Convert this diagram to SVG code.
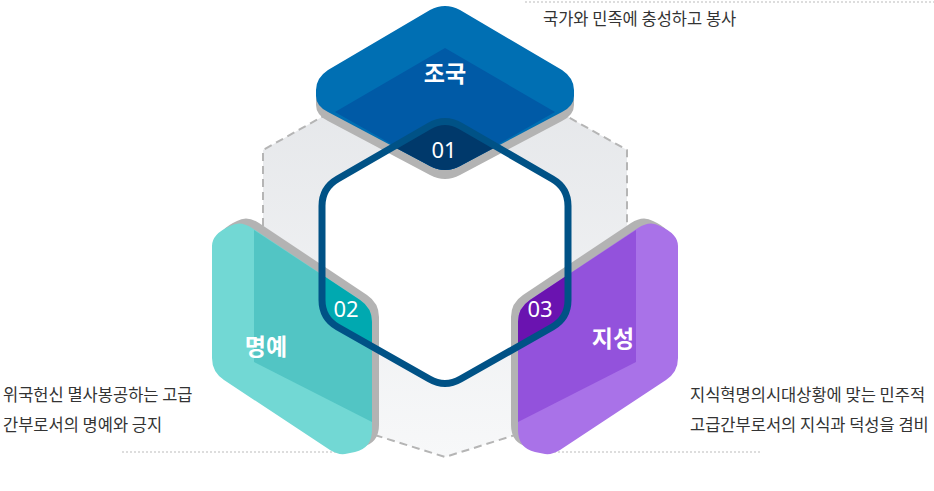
<svg xmlns="http://www.w3.org/2000/svg" width="934" height="491" viewBox="0 0 934 491">
<style>
.desc{font-family:"Noto Sans CJK KR","Noto Sans",sans-serif;font-size:16.5px;fill:#333}
.lbl{font-family:"Noto Sans CJK KR","Noto Sans",sans-serif;font-size:23px;font-weight:bold;fill:#fff;text-anchor:middle}
.num{font-family:"Noto Sans","Noto Sans CJK KR",sans-serif;font-size:22px;fill:#fff;text-anchor:middle}
.dot{stroke:#bbb;stroke-width:1;stroke-dasharray:2 2;fill:none}
</style>
<defs>
<linearGradient id="bg" x1="0" y1="0" x2="0" y2="1"><stop offset="0" stop-color="#e3e5e8"/><stop offset="1" stop-color="#f7f8f9"/></linearGradient>
<path id="hexPath" d="M429.4,126 Q445,117 460.6,126 L552.4,179 Q568,188 568,206 L568,300 Q568,318 552.4,327 L460.6,379 Q445,388 429.4,379 L337.6,327 Q322,318 322,300 L322,206 Q322,188 337.6,179 Z"/>
<clipPath id="hex"><use href="#hexPath"/></clipPath>
<path id="topShape" d="M430,10 Q445,2 460,10 L562,70 Q574,78 574,90 L574,96 Q574,106 562,112 L460,166 Q445,174 430,166 L328,112 Q316,106 316,96 L316,90 Q316,78 328,70 Z"/>
<path id="leftShape" d="M230,226 Q240,220 252,228 L360,300 Q372,308 372,322 L372,430 Q372,448 355,452 L345,454 Q338,455 330,450 L224,380 Q212,372 212,358 L212,246 Q212,234 230,226 Z"/>
<path id="rightShape" d="M660,226 Q650,220 638,228 L530,300 Q518,308 518,322 L518,430 Q518,448 535,452 L545,454 Q552,455 560,450 L666,380 Q678,372 678,358 L678,246 Q678,234 660,226 Z"/>
</defs>
<g id="background">
<polygon points="445,48 627,150 627,400 445,457 263,400 263,150" fill="url(#bg)" stroke="#b5b5b5" stroke-width="2" stroke-dasharray="8 5" stroke-linejoin="round"/>
<use href="#hexPath" fill="#fff"/>
<line class="dot" x1="525" y1="2" x2="934" y2="2"/>
<line class="dot" x1="122" y1="452" x2="340" y2="452"/>
<line class="dot" x1="542" y1="452" x2="762" y2="452"/>
</g>
<g id="node-top">
<use href="#topShape" fill="#b3b3b3" transform="translate(0,9)"/>
<use href="#topShape" fill="#006fb3"/>
<path d="M445,48 L555,112 L460,166 Q445,174 430,166 L335,112 Z" fill="#005aa6"/>
<use href="#topShape" fill="#00396b" clip-path="url(#hex)"/>
<text class="lbl" x="445" y="82">조국</text>
<text class="num" x="444" y="158">01</text>
</g>
<g id="node-left">
<use href="#leftShape" fill="#b3b3b3" transform="translate(7,-5)"/>
<use href="#leftShape" fill="#72d8d4"/>
<path d="M254,230 L360,300 Q372,308 372,322 L372,422 L254,362 Z" fill="#52c5c4"/>
<use href="#leftShape" fill="#00a9b0" clip-path="url(#hex)"/>
<text class="num" x="346" y="317">02</text>
<text class="lbl" x="266" y="355">명예</text>
</g>
<g id="node-right">
<use href="#rightShape" fill="#b3b3b3" transform="translate(-7,-5)"/>
<use href="#rightShape" fill="#a972e8"/>
<path d="M636,230 L530,300 Q518,308 518,322 L518,422 L636,362 Z" fill="#9352dc"/>
<use href="#rightShape" fill="#6a13b0" clip-path="url(#hex)"/>
<text class="num" x="540" y="317">03</text>
<text class="lbl" x="613" y="347">지성</text>
</g>
<g id="connectors">
<use href="#hexPath" fill="none" stroke="#005286" stroke-width="7"/>
</g>
<g id="texts">
<text class="desc" x="543" y="25">국가와 민족에 충성하고 봉사</text>
<text class="desc" x="3" y="401">위국헌신 멸사봉공하는 고급</text>
<text class="desc" x="3" y="431">간부로서의 명예와 긍지</text>
<text class="desc" x="690" y="401">지식혁명의시대상황에 맞는 민주적</text>
<text class="desc" x="690" y="431">고급간부로서의 지식과 덕성을 겸비</text>
</g>
</svg>
